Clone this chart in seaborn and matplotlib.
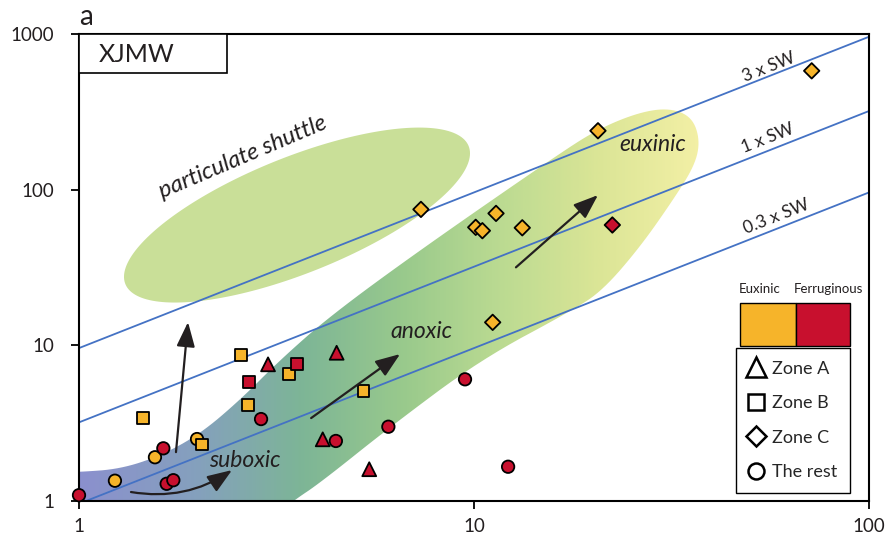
import numpy as np
import pandas as pd
import matplotlib
matplotlib.use("Agg")
import matplotlib.pyplot as plt
import seaborn as sns
from matplotlib.patches import Polygon, Rectangle
from matplotlib.lines import Line2D
from matplotlib.colors import LinearSegmentedColormap
from matplotlib.ticker import NullLocator

# ---------------- data ----------------
# Zone A (triangles)
zone_a_x = [3.01, 4.49, 4.14, 5.43]
zone_a_y = [7.55, 8.96, 2.49, 1.60]
zone_a_type = ["Ferruginous"] * 4

# Zone B (squares)
zone_b_x = [1.455, 2.045, 2.57, 2.68, 3.40, 5.25, 2.70, 3.56]
zone_b_y = [3.40, 2.31, 8.66, 4.14, 6.54, 5.11, 5.79, 7.58]
zone_b_type = ["Euxinic"] * 6 + ["Ferruginous"] * 2

# Zone C (diamonds)
zone_c_x = [7.34, 11.37, 10.1, 10.5, 13.25, 11.15, 20.6, 71.6, 22.4]
zone_c_y = [74.7, 70.4, 57.3, 54.5, 56.9, 14.05, 239.0, 580.0, 59.3]
zone_c_type = ["Euxinic"] * 8 + ["Ferruginous"]

# remaining samples (circles)
rest_x = [1.233, 1.557, 1.99, 1.0, 1.667, 1.733, 1.635, 2.89, 4.47, 6.07, 9.49, 12.2]
rest_y = [1.35, 1.91, 2.50, 1.09, 1.29, 1.36, 2.18, 3.36, 2.43, 3.00, 6.05, 1.66]
rest_type = ["Euxinic"] * 3 + ["Ferruginous"] * 9

# seawater ratio lines (y = k * x)
sw_ratio = [9.6, 3.2, 0.96]
sw_labels = ["3 x SW", "1 x SW", "0.3 x SW"]

x_ticks = [1, 10, 100]
y_ticks = [1, 10, 100, 1000]
legend_zones = ["Zone A", "Zone B", "Zone C", "The rest"]
legend_types = ["Euxinic", "Ferruginous"]

EUX = "#F6B42A"
FER = "#C8102E"
INK = "#231F20"
LINE_BLUE = "#4472C4"
palette = {"Euxinic": EUX, "Ferruginous": FER}

# ---------------- style ----------------
sns.set_theme(style="ticks")
plt.rcParams["font.family"] = ["Lato", "DejaVu Sans"]

W, H = 887, 547
fig = plt.figure(figsize=(W / 100, H / 100), dpi=100)
rect = [79 / W, 1 - 501 / H, 790 / W, 467 / H]

# background layer in decade units (log10 x: 0..2, log10 y: 0..3)
bg = fig.add_axes(rect, zorder=0)
bg.set_xlim(0, 2)
bg.set_ylim(0, 3)
bg.axis("off")

ax = fig.add_axes(rect, zorder=1)
ax.patch.set_alpha(0)

PXX, PXY = 395.0, 155.7  # pixels per decade


def px_to_dec(px, py):
    return ((np.asarray(px) - 79) / PXX, (501 - np.asarray(py)) / PXY)


def chaikin(pts, n=3):
    p = np.asarray(pts, float)
    for _ in range(n):
        q = np.roll(p, -1, axis=0)
        a = 0.75 * p + 0.25 * q
        b = 0.25 * p + 0.75 * q
        p = np.empty((2 * len(a), 2))
        p[0::2] = a
        p[1::2] = b
    return p


# particulate shuttle field (ellipse)
theta = np.deg2rad(21.9)
t = np.linspace(0, 2 * np.pi, 200)
a_px, b_px = 185, 58
cx, cy = 297, 215
ex = cx + a_px * np.cos(t) * np.cos(theta) - b_px * np.sin(t) * np.sin(theta)
ey_up = (501 - cy) + a_px * np.cos(t) * np.sin(theta) + b_px * np.sin(t) * np.cos(theta)
ell = np.column_stack([(ex - 79) / PXX, ey_up / PXY])
bg.add_patch(Polygon(ell, closed=True, facecolor="#C9DF98", edgecolor="none", zorder=1))

# suboxic -> anoxic -> euxinic field (gradient band)
band_px = [
    (60, 472), (79, 472), (120, 469), (160, 456), (200, 434), (240, 400),
    (280, 360), (330, 316), (420, 250), (560, 153), (600, 128), (640, 112),
    (670, 108), (692, 117), (700, 140), (695, 165), (673, 200), (640, 247),
    (603, 290), (573, 310), (480, 360), (390, 427), (320, 483), (293, 501),
    (270, 520), (60, 520),
]
bx, by = px_to_dec([p[0] for p in band_px], [p[1] for p in band_px])
band = chaikin(np.column_stack([bx, by]), 3)
band_patch = Polygon(band, closed=True, facecolor="none", edgecolor="none")
bg.add_patch(band_patch)

grad_cmap = LinearSegmentedColormap.from_list(
    "band",
    [
        (0.00, (0.545, 0.565, 0.808)),
        (0.15, (0.52, 0.63, 0.74)),
        (0.28, (0.49, 0.71, 0.59)),
        (0.41, (0.60, 0.79, 0.55)),
        (0.53, (0.73, 0.855, 0.57)),
        (0.66, (0.86, 0.90, 0.59)),
        (0.79, (0.955, 0.94, 0.65)),
        (1.00, (0.97, 0.95, 0.68)),
    ],
)
grad = grad_cmap(np.linspace(0, 1, 600))[None, :, :]
im = bg.imshow(grad, extent=(0, 2, 0, 3), aspect="auto", origin="lower",
               interpolation="bilinear", zorder=1)
im.set_clip_path(band_patch)

# ---------------- main axes ----------------
ax.set_xscale("log")
ax.set_yscale("log")

xs = np.array([1, 100])
for k in sw_ratio:
    ax.plot(xs, k * xs, color=LINE_BLUE, lw=1.3, zorder=2)

zones = [
    (zone_a_x, zone_a_y, zone_a_type, "^", 100),
    (rest_x, rest_y, rest_type, "o", 80),
    (zone_b_x, zone_b_y, zone_b_type, "s", 72),
    (zone_c_x, zone_c_y, zone_c_type, "D", 62),
]
for zx, zy, zt, mk, s in zones:
    df = pd.DataFrame({"x": zx, "y": zy, "type": zt})
    sns.scatterplot(data=df, x="x", y="y", hue="type", palette=palette,
                    marker=mk, s=s, edgecolor="black", linewidth=1.3,
                    legend=False, ax=ax, zorder=4, clip_on=False)

ax.set_xlim(1, 100)
ax.set_ylim(1, 1000)
ax.set_xlabel("")
ax.set_ylabel("")
ax.set_xticks(x_ticks)
ax.set_xticklabels([str(v) for v in x_ticks])
ax.set_yticks(y_ticks)
ax.set_yticklabels([str(v) for v in y_ticks])
ax.xaxis.set_minor_locator(NullLocator())
ax.yaxis.set_minor_locator(NullLocator())
ax.tick_params(axis="both", which="major", direction="out", length=6, width=1.3,
               color="black", labelsize=13.5, labelcolor=INK)
ax.tick_params(axis="x", pad=6)
ax.tick_params(axis="y", pad=12)
for sp in ax.spines.values():
    sp.set_visible(True)
    sp.set_color("black")
    sp.set_linewidth(1.5)

# seawater line labels
sw_label_pos = [(55.8, 613), (55.5, 214), (58.2, 66.7)]
for (lx, ly), lab in zip(sw_label_pos, sw_labels):
    ax.text(lx, ly, lab, rotation=21.5, rotation_mode="anchor", ha="center",
            va="center", fontsize=12.5, color=INK, zorder=5)

# field names
ax.text(2.60, 161.9, "particulate shuttle", rotation=23, rotation_mode="anchor",
        ha="center", va="center", fontsize=17, style="italic", color=INK, zorder=5)
ax.text(28.4, 196, "euxinic", ha="center", va="center", fontsize=16.5,
        style="italic", color=INK, zorder=5)
ax.text(7.38, 12.36, "anoxic", ha="center", va="center", fontsize=16.5,
        style="italic", color=INK, zorder=5)
ax.text(2.63, 1.81, "suboxic", ha="center", va="center", fontsize=16.5,
        style="italic", color=INK, zorder=5)

# trend arrows
arrow_kw = dict(arrowstyle="-|>,head_length=0.75,head_width=0.28", color=INK,
                lw=1.6, mutation_scale=20, shrinkA=0, shrinkB=0)
ax.annotate("", xy=(1.888, 14.1), xytext=(1.76, 2.06),
            arrowprops=arrow_kw, zorder=6)
ax.annotate("", xy=(2.44, 1.58), xytext=(1.354, 1.142),
            arrowprops=dict(arrow_kw, connectionstyle="arc3,rad=0.2"), zorder=6)
ax.annotate("", xy=(6.50, 8.79), xytext=(3.87, 3.41),
            arrowprops=arrow_kw, zorder=6)
ax.annotate("", xy=(20.6, 92.3), xytext=(12.77, 31.7),
            arrowprops=arrow_kw, zorder=6)

# site label box
ax.add_patch(Rectangle((0, 0.9165), 0.187, 0.0835, transform=ax.transAxes,
                       facecolor="white", edgecolor="black", lw=1.2, zorder=7,
                       clip_on=False))
ax.text(0.0735, 0.957, "XJMW", transform=ax.transAxes, ha="center", va="center",
        fontsize=18, color=INK, zorder=8)

fig.text(79 / W, 1 - 25 / H, "a", ha="left", va="baseline", fontsize=20, color=INK)

# legend: colour key
x0, xm, x1 = 0.8367, 0.9072, 0.976
y0, y1 = 0.3319, 0.424
ax.add_patch(Rectangle((x0, y0), xm - x0, y1 - y0, transform=ax.transAxes,
                       facecolor=EUX, edgecolor="black", lw=1.0, zorder=7))
ax.add_patch(Rectangle((xm, y0), x1 - xm, y1 - y0, transform=ax.transAxes,
                       facecolor=FER, edgecolor="black", lw=1.0, zorder=7))
ax.text(0.861, 0.455, legend_types[0], transform=ax.transAxes, ha="center",
        va="center", fontsize=9.5, color=INK)
ax.text(0.949, 0.455, legend_types[1], transform=ax.transAxes, ha="center",
        va="center", fontsize=9.5, color=INK)

# legend: marker key
handles = [
    Line2D([], [], ls="none", marker="^", ms=14, mfc="white", mec="black", mew=1.8),
    Line2D([], [], ls="none", marker="s", ms=12, mfc="white", mec="black", mew=1.8),
    Line2D([], [], ls="none", marker="D", ms=10.5, mfc="white", mec="black", mew=1.8),
    Line2D([], [], ls="none", marker="o", ms=11.5, mfc="white", mec="black", mew=1.8),
]
leg = ax.legend(handles, legend_zones, loc="lower right",
                bbox_to_anchor=(x1, 0.0171), bbox_transform=ax.transAxes,
                fontsize=13, frameon=True, fancybox=False, framealpha=1,
                edgecolor="black", borderaxespad=0, borderpad=0.72,
                handlelength=0.8, handletextpad=0.45, labelspacing=1.02)
leg.get_frame().set_linewidth(1.0)
leg.set_zorder(7)

fig.savefig("out.png", dpi=100)
